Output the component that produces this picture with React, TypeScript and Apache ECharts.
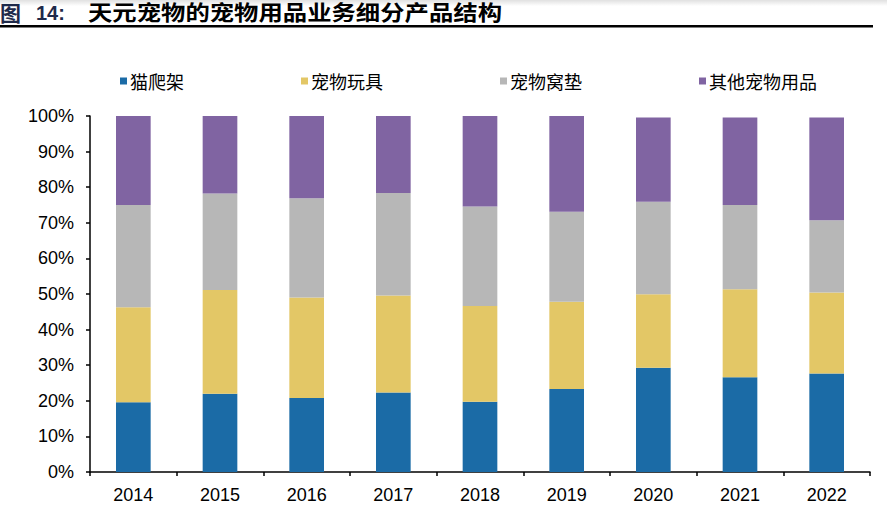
import React, { useEffect, useRef } from "react";
import * as echarts from "echarts";

const years = ["2014", "2015", "2016", "2017", "2018", "2019", "2020", "2021", "2022"];
const seriesNames = ["猫爬架", "宠物玩具", "宠物窝垫", "其他宠物用品"];
const catTree = [19.6, 22.0, 20.8, 22.3, 19.7, 23.3, 29.3, 26.6, 27.7];
const petToys = [26.7, 29.1, 28.2, 27.3, 26.9, 24.5, 20.6, 24.7, 22.7];
const petBeds = [28.7, 27.1, 27.9, 28.8, 28.0, 25.3, 26.0, 23.7, 20.3];
const otherSupplies = [25.0, 21.8, 23.1, 21.6, 25.4, 26.9, 23.7, 24.6, 28.9];
const colors = ["#1b6ba6", "#e3c766", "#b7b7b7", "#8064a2"];
const titlePrefix = "图";
const titleNumber = "14:";
const titleText = "天元宠物的宠物用品业务细分产品结构";

export default function App() {
  const ref = useRef<HTMLDivElement>(null);
  useEffect(() => {
    document.body.style.margin = "0";
    if (!ref.current) return;
    const chart = echarts.init(ref.current, undefined, { renderer: "svg" });
    const data = [catTree, petToys, petBeds, otherSupplies];
    chart.setOption({
      animation: false,
      backgroundColor: "#ffffff",
      grid: { left: 90, right: 17, top: 116, bottom: 48, containLabel: false },
      legend: {
        data: seriesNames,
        left: 120,
        top: 72,
        itemGap: 117,
        itemWidth: 7,
        itemHeight: 7,
        icon: "rect",
        padding: 0,
        textStyle: { fontSize: 18, color: "#000", fontFamily: "Noto Sans CJK SC", padding: [0, 0, 0, -2] },
      },
      xAxis: {
        type: "category",
        data: years,
        boundaryGap: true,
        axisLine: { lineStyle: { color: "#000", width: 1.5 } },
        axisTick: { show: true, length: 4, lineStyle: { color: "#000", width: 1.5 } },
        axisLabel: { color: "#000", fontSize: 18, fontFamily: "Liberation Sans, Arial", margin: 14 },
      },
      yAxis: {
        type: "value",
        min: 0,
        max: 100,
        interval: 10,
        splitLine: { show: false },
        axisLine: { show: true, lineStyle: { color: "#000", width: 1.5 } },
        axisTick: { show: true, length: 4, lineStyle: { color: "#000", width: 1.5 } },
        axisLabel: {
          color: "#000",
          fontSize: 18,
          fontFamily: "Liberation Sans, Arial",
          margin: 16,
          formatter: "{value}%",
        },
      },
      series: seriesNames.map((name, i) => ({
        name,
        type: "bar",
        stack: "total",
        barWidth: "40%",
        data: data[i],
        itemStyle: { color: colors[i] },
      })),
      graphic: [
        {
          type: "rect",
          z: 0,
          shape: { x: 0, y: 0, width: 887, height: 6 },
          style: {
            fill: new echarts.graphic.LinearGradient(0, 0, 0, 1, [
              { offset: 0, color: "rgba(0,0,0,0.12)" },
              { offset: 1, color: "rgba(0,0,0,0)" },
            ]),
          },
        },
        {
          type: "text",
          z: 10,
          x: 0,
          y: 13,
          style: {
            text: titlePrefix,
            fontSize: 21,
            fontWeight: "bold",
            fontFamily: "Liberation Sans, Noto Sans CJK SC",
            fill: "#1f2a4a",
            verticalAlign: "middle",
          },
        },
        {
          type: "text",
          z: 10,
          x: 36,
          y: 13,
          style: {
            text: titleNumber,
            fontSize: 20,
            fontWeight: "bold",
            fontFamily: "Liberation Sans, Arial",
            fill: "#1f2a4a",
            verticalAlign: "middle",
          },
        },
        {
          type: "text",
          z: 10,
          x: 88,
          y: 13,
          scaleX: 1.16,
          style: {
            text: titleText,
            fontSize: 21,
            fontWeight: "bold",
            fontFamily: "Liberation Sans, Noto Sans CJK SC",
            fill: "#000",
            verticalAlign: "middle",
          },
        },
        {
          type: "rect",
          z: 10,
          shape: { x: 0, y: 25, width: 873, height: 2.5 },
          style: { fill: "#000" },
        },
      ],
    });
    return () => chart.dispose();
  }, []);
  return <div ref={ref} style={{ width: 887, height: 520 }} />;
}
